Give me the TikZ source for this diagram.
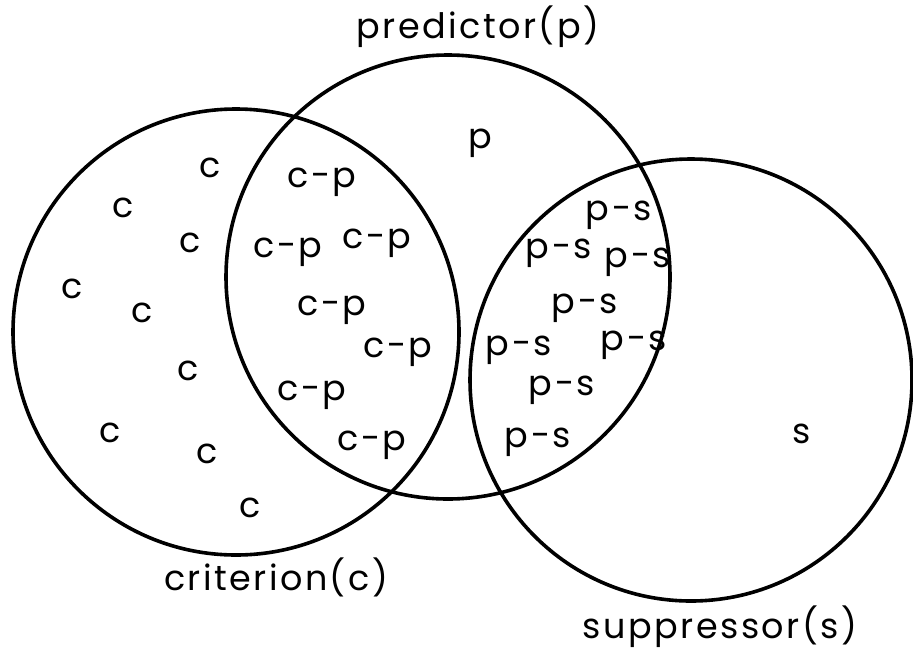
\documentclass[tikz,border=0pt]{standalone}
\usepackage{fontspec}
\setmainfont{Poppins}[LetterSpace=7]
\usepackage{tikz}

\begin{document}
\begin{tikzpicture}[
  x=0.5pt, y=0.5pt,
  ring/.style={draw=black, line width=1.8pt},
  lbl/.style={anchor=base, inner sep=0pt, font=\fontsize{17.5pt}{20pt}\selectfont}
]
  \useasboundingbox (0,0) rectangle (913,-648);

  % the three sets
  \coordinate (crit) at (236,-332);
  \coordinate (pred) at (448,-277);
  \coordinate (supp) at (691,-380);
  \draw[ring] (crit) circle (223);
  \draw[ring] (pred) circle (222);
  \draw[ring] (supp) circle (221);

  \node[lbl] (predlab) at (478,-38) {predictor(p)};
  \node[lbl] (critlab) at (276,-590) {criterion(c)};
  \node[lbl] (supplab) at (720,-638) {suppressor(s)};

  % criterion only
  \node[lbl] (c1) at (210,-177) {c};
  \node[lbl] (c2) at (123,-217) {c};
  \node[lbl] (c3) at (190,-252) {c};
  \node[lbl] (c4) at (72,-298) {c};
  \node[lbl] (c5) at (142,-322) {c};
  \node[lbl] (c6) at (188,-380) {c};
  \node[lbl] (c7) at (110,-442) {c};
  \node[lbl] (c8) at (207,-463) {c};
  \node[lbl] (c9) at (250,-517) {c};

  % criterion and predictor
  \node[lbl] (cp1) at (322,-187) {c-p};
  \node[lbl] (cp2) at (288,-257) {c-p};
  \node[lbl] (cp3) at (377,-248) {c-p};
  \node[lbl] (cp4) at (332,-315) {c-p};
  \node[lbl] (cp5) at (398,-357) {c-p};
  \node[lbl] (cp6) at (312,-400) {c-p};
  \node[lbl] (cp7) at (372,-450) {c-p};

  % predictor only
  \node[lbl] (p1) at (480,-148) {p};

  % predictor and suppressor
  \node[lbl] (ps1) at (619,-220) {p-s};
  \node[lbl] (ps2) at (559,-258) {p-s};
  \node[lbl] (ps3) at (638,-267) {p-s};
  \node[lbl] (ps4) at (585,-313) {p-s};
  \node[lbl] (ps5) at (519,-355) {p-s};
  \node[lbl] (ps6) at (634,-350) {p-s};
  \node[lbl] (ps7) at (562,-395) {p-s};
  \node[lbl] (ps8) at (538,-447) {p-s};

  % suppressor only
  \node[lbl] (s1) at (802,-443) {s};
\end{tikzpicture}
\end{document}
